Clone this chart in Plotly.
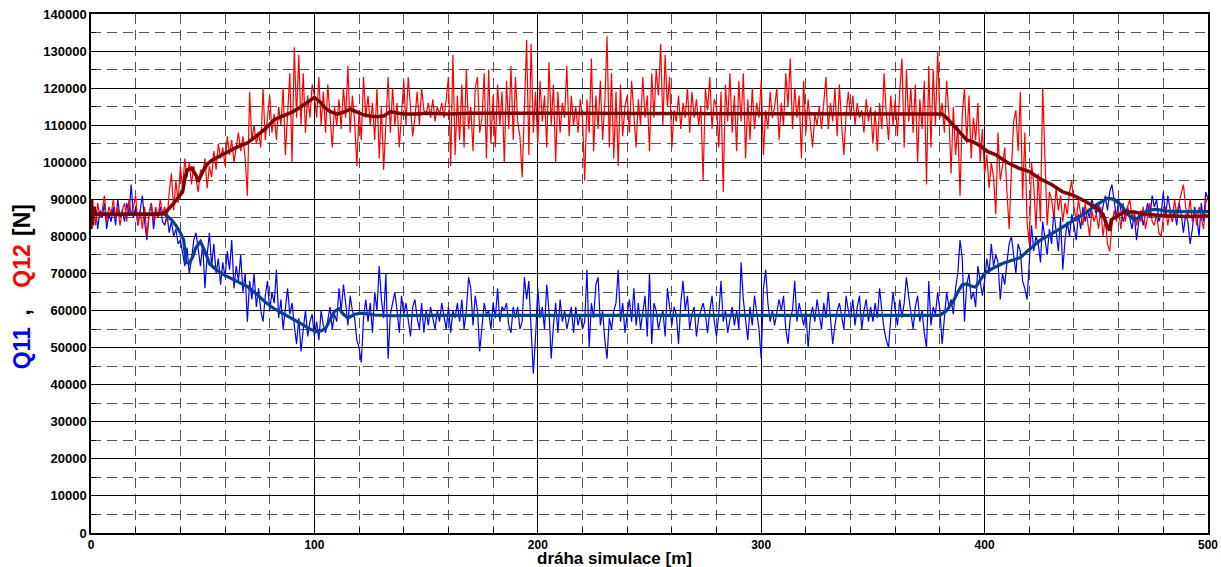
import plotly.graph_objects as go

RED_NOISY_KN = [
    84, 88, 83, 89, 85, 87, 91, 84, 88, 86,
    90, 85, 88, 83, 87, 89, 84, 90, 86, 88,
    91, 83, 87, 82, 88, 80, 86, 89, 84, 88,
    85, 90, 86, 88, 84, 92, 97, 87, 95, 89,
    99, 93, 101, 96, 100, 94, 99, 95, 92, 98,
    97, 101, 93, 99, 96, 103, 98, 105, 101, 104,
    99, 107, 102, 106, 100, 104, 108, 103, 107, 101,
    91, 119, 106, 110, 105, 108, 104, 120, 106, 112,
    118, 108, 113, 106, 115, 110, 120, 102, 113, 124,
    100, 131, 112, 129, 110, 124, 108, 118, 112, 121,
    118, 112, 123, 110, 119, 108, 121, 113, 104, 115,
    110, 117, 109, 120, 112, 126, 108, 118, 111, 99,
    114, 106, 123, 112, 118, 110, 116, 106, 120, 101,
    115, 98, 112, 123, 108, 120, 110, 116, 104, 113,
    122, 110, 123, 115, 107, 112, 119, 110, 120, 114,
    113, 116, 112, 117, 111, 115, 113, 116, 112, 117,
    123, 99, 129, 102, 118, 106, 121, 104, 125, 109,
    115, 103, 120, 123, 108, 112, 124, 101, 125, 105,
    118, 104, 121, 110, 119, 100, 122, 109, 126, 106,
    123, 111, 107, 96, 118, 133, 102, 132, 108, 119,
    105, 122, 111, 118, 104, 127, 110, 121, 100, 119,
    108, 116, 112, 126, 107, 118, 110, 115, 108, 117,
    112, 95, 117, 108, 128, 103, 118, 109, 122, 106,
    116, 134, 104, 124, 101, 119, 99, 121, 107, 115,
    118, 108, 122, 112, 104, 117, 110, 123, 112, 118,
    103, 124, 112, 125, 118, 132, 110, 129, 115, 123,
    104, 114, 111, 118, 109, 116, 112, 120, 108, 119,
    112, 117, 110, 115, 95, 120, 114, 123, 109, 117,
    115, 104, 119, 92, 121, 111, 124, 108, 118, 103,
    122, 111, 124, 101, 117, 106, 120, 109, 116, 112,
    122, 102, 114, 109, 119, 112, 115, 120, 106, 116,
    110, 124, 115, 128, 109, 120, 112, 118, 101, 122,
    108, 117, 111, 104, 113, 110, 115, 109, 116, 123,
    109, 116, 111, 120, 107, 121, 110, 102, 113, 119,
    112, 118, 110, 116, 112, 114, 108, 117, 111, 115,
    105, 114, 103, 116, 109, 124, 113, 106, 118, 110,
    117, 107, 119, 128, 104, 125, 111, 120, 108, 121,
    100, 117, 109, 122, 94, 126, 104, 125, 110, 130,
    112, 116, 108, 122, 113, 97, 115, 102, 110, 91,
    113, 120, 105, 118, 101, 112, 106, 116, 100, 109,
    97, 102, 93, 100, 96, 86, 108, 95, 99, 104,
    92, 82, 98, 111, 114, 103, 119, 90, 108, 84,
    78, 100, 94, 82, 97, 84, 120, 98, 83, 92,
    90, 85, 93, 87, 91, 84, 89, 86, 92, 95,
    88, 84, 90, 86, 83, 89, 85, 80, 87, 84,
    86, 82, 88, 80, 85, 78, 76, 83, 87, 84,
    87, 82, 89, 84, 88, 90, 85, 87, 83, 86,
    84, 88, 82, 86, 89, 84, 83, 86, 81, 80,
    85, 88, 83, 87, 84, 90, 86, 89, 92, 94,
    88, 85, 90, 84, 87, 83, 88, 85, 82, 89,
    91,
]

BLUE_NOISY_KN = [
    86, 84, 88, 82, 87, 85, 89, 82, 86, 84,
    88, 83, 90, 85, 87, 84, 89, 86, 94, 85,
    88, 83, 87, 91, 84, 79, 86, 89, 82, 87,
    85, 88, 84, 83, 86, 81, 84, 80, 82, 78,
    79, 75, 72, 77, 70, 74, 79, 81, 76, 72,
    78, 66, 75, 81, 72, 78, 70, 74, 67, 73,
    69, 76, 71, 79, 66, 72, 68, 75, 65, 70,
    57, 68, 63, 70, 61, 66, 60, 57, 64, 68,
    60, 65, 62, 71, 58, 63, 55, 61, 66, 59,
    62, 56, 51, 58, 49, 55, 60, 53, 57, 59,
    53, 57, 52, 60, 56, 54, 58, 61, 55, 59,
    57, 66, 60, 67, 62, 56, 64, 60, 58, 52,
    50, 46, 58, 63, 57, 62, 54, 65, 60, 72,
    63, 58, 70, 47, 59, 62, 65, 60, 54, 64,
    59, 62, 57, 53, 61, 63, 58, 55, 62, 54,
    60, 56, 61, 58, 55, 60, 57, 62, 58, 55,
    61, 54, 60, 58, 62, 57, 63, 55, 60, 69,
    66, 56, 64, 60, 49, 56, 62, 59, 60, 55,
    62, 58, 66, 57, 61, 60, 62, 56, 54, 61,
    58, 61, 55, 57, 69, 63, 68, 55, 43, 53,
    66, 58, 61, 55, 67, 60, 47, 56, 62, 54,
    63, 57, 60, 55, 58, 61, 54, 61, 56, 59,
    55, 57, 71, 50, 62, 58, 67, 69, 56, 60,
    52, 47, 58, 55, 60, 62, 71, 57, 62, 54,
    59, 63, 57, 66, 56, 62, 55, 60, 64, 53,
    70, 51, 62, 60, 55, 58, 60, 53, 66, 61,
    56, 61, 59, 51, 62, 68, 60, 64, 55, 59,
    61, 53, 58, 60, 62, 59, 54, 60, 64, 57,
    53, 59, 68, 57, 60, 54, 58, 61, 56, 60,
    55, 73, 63, 58, 52, 61, 56, 64, 59, 55,
    47, 66, 71, 62, 57, 60, 56, 59, 63, 60,
    64, 55, 51, 58, 60, 68, 57, 62, 59, 56,
    60, 50, 58, 61, 57, 63, 59, 55, 62, 58,
    65, 58, 51, 56, 60, 62, 58, 55, 64, 60,
    58, 63, 56, 61, 64, 55, 60, 63, 57, 61,
    57, 62, 58, 66, 60, 55, 52, 50, 58, 65,
    60, 56, 63, 58, 62, 69, 64, 59, 55, 61,
    64, 57, 60, 54, 50, 68, 56, 61, 59, 65,
    60, 51, 58, 65, 61, 63, 59, 66, 70, 79,
    74, 57, 67, 70, 63, 65, 61, 72, 68, 64,
    68, 74, 70, 78, 72, 75, 73, 63, 70, 67,
    73, 78, 80, 74, 70, 78, 76, 68, 66, 63,
    74, 83, 76, 80, 78, 73, 84, 79, 75, 82,
    78, 87, 81, 76, 85, 71, 79, 84, 80, 86,
    83, 79, 86, 82, 88, 84, 87, 85, 90, 88,
    86, 89, 85, 88, 91, 87, 92, 94, 89, 85,
    90, 87, 84, 86, 88, 85, 82, 86, 79, 84,
    87, 83, 86, 89, 85, 91, 88, 90, 84, 86,
    92, 85, 91, 88, 84, 87, 83, 89, 86, 81,
    86, 84, 78, 82, 88, 85, 80, 89, 84, 92,
    90,
]

# Smoothed (mean) curves: (distance m, value kN)
RED_SMOOTH = [
    (0, 82), (0.3, 90), (0.6, 83), (1, 88), (2, 86), (10, 86), (20, 86), (30, 86),
    (33, 86.3), (35, 87.5), (37, 88.9), (39, 90.5), (41, 92), (42, 95.5), (43, 97.9),
    (45, 98.4), (47, 96.5), (48, 94.8), (50, 97.5), (52, 99.5), (54, 100.5),
    (57, 101.5), (60, 102.5), (63, 103.5), (66, 104.3), (70, 105.2), (74, 107),
    (78, 109), (82, 111.5), (86, 112.5), (90, 113.5), (94, 115), (97, 116.3),
    (99, 117), (100, 117.5), (101, 117), (103, 116), (105, 114.5), (107, 113.7),
    (110, 113), (113, 113.5), (116, 114.3), (119, 113.5), (122, 112.8), (125, 112.5),
    (128, 112.3), (131, 112.5), (134, 113.7), (137, 113.3), (140, 113), (145, 113),
    (150, 113.2), (160, 113), (170, 113.2), (200, 113.2), (250, 113.2), (300, 113.2),
    (350, 113.2), (379, 113.2), (381, 113), (383, 112), (386, 110), (389, 108),
    (392, 106), (395, 105.5), (398, 104.5), (401, 103), (405, 102), (410, 100),
    (415, 98.5), (420, 97.5), (425, 95.5), (430, 94), (435, 92), (440, 91),
    (445, 89.5), (450, 87.7), (453, 86), (455, 82.5), (456, 81.6), (456.7, 84.5),
    (460, 85.8), (463, 86.6), (467, 86.6), (472, 86), (480, 85.6), (490, 85.4),
    (500, 85.5),
]

BLUE_SMOOTH = [
    (0, 86), (33, 86), (36, 84.5), (38, 83), (40, 81), (41.5, 79), (42.5, 73),
    (44, 72.7), (45.5, 74.5), (47, 77), (49, 78.6), (51, 76), (53, 72.7), (56, 71),
    (60, 69.5), (65, 68), (70, 66.5), (74, 64.5), (78, 62.3), (82, 60.5), (86, 59.2),
    (90, 58), (94, 56.5), (98, 55), (101, 54.3), (103, 54.5), (105, 55.2), (107, 57.5),
    (109, 59.8), (111, 60.5), (113, 59), (115, 58), (118, 59), (121, 59.3), (124, 59),
    (127, 58.8), (135, 58.6), (150, 58.7), (200, 58.7), (250, 58.7), (300, 58.7),
    (350, 58.7), (380, 58.7), (383, 60), (386, 62.5), (388, 65), (390, 67), (392, 67.2),
    (394, 66.6), (396, 66.3), (398, 68), (400, 70), (404, 71.5), (408, 72.7),
    (412, 73.5), (416, 74.3), (420, 76.5), (425, 79), (430, 80.7), (435, 82.5),
    (440, 84.5), (445, 86.3), (450, 88.5), (455, 90.3), (458, 90), (461, 88.5),
    (464, 86), (467, 84.4), (470, 85.5), (473, 87.1), (477, 87.3), (482, 86.8),
    (490, 86.7), (500, 86.7),
]

X_TICKS = [0, 100, 200, 300, 400, 500]
Y_TICKS = list(range(0, 140001, 10000))

# Y-axis title pieces: (text, colour)
Y_TITLE_PARTS = [("Q11", "#0000FF"), (",", "#000000"), ("Q12", "#FF0000"), ("[N]", "#000000")]
Y_TITLE_POS = [0.3558, 0.4250, 0.5150, 0.6031]

x_noisy = list(range(len(RED_NOISY_KN)))
red_noisy = [v * 1000 for v in RED_NOISY_KN]
blue_noisy = [v * 1000 for v in BLUE_NOISY_KN]
red_sx = [p[0] for p in RED_SMOOTH]
red_sy = [p[1] * 1000 for p in RED_SMOOTH]
blue_sx = [p[0] for p in BLUE_SMOOTH]
blue_sy = [p[1] * 1000 for p in BLUE_SMOOTH]

FONT = "Liberation Sans, Arial, sans-serif"

fig = go.Figure()
fig.add_trace(go.Scatter(x=x_noisy, y=blue_noisy, mode="lines",
                         line=dict(color="#0000FF", width=1.2), showlegend=False))
fig.add_trace(go.Scatter(x=x_noisy, y=red_noisy, mode="lines",
                         line=dict(color="#FF0000", width=1.2), showlegend=False))
fig.add_trace(go.Scatter(x=blue_sx, y=blue_sy, mode="lines",
                         line=dict(color="#0A3F92", width=3.2), showlegend=False))
fig.add_trace(go.Scatter(x=red_sx, y=red_sy, mode="lines",
                         line=dict(color="#800000", width=3.5), showlegend=False))

fig.update_layout(
    width=1221, height=567,
    margin=dict(l=91, r=13, t=14, b=34, autoexpand=False),
    plot_bgcolor="white", paper_bgcolor="white",
    font=dict(family=FONT, size=13, color="black"),
    xaxis=dict(
        range=[0, 500], tickmode="array", tickvals=X_TICKS,
        ticktext=[f"<b>{t}</b>" for t in X_TICKS], automargin=False,
        showgrid=True, gridcolor="#000000", gridwidth=1,
        showline=True, linecolor="black", linewidth=1.5, mirror=True,
        ticks="inside", ticklen=5, tickcolor="black",
        minor=dict(dtick=20, tick0=0, showgrid=True, gridcolor="#555555",
                   griddash="10px,6px", gridwidth=1,
                   ticks="inside", ticklen=5, tickcolor="black"),
        zeroline=False, tickfont=dict(size=12, family=FONT),
    ),
    yaxis=dict(
        range=[0, 140000], tickmode="array", tickvals=Y_TICKS,
        ticktext=[f"<b>{t}</b>" for t in Y_TICKS], automargin=False,
        showgrid=True, gridcolor="#000000", gridwidth=1,
        showline=True, linecolor="black", linewidth=1.5, mirror=True,
        ticks="inside", ticklen=5, tickcolor="black",
        minor=dict(dtick=5000, tick0=0, showgrid=True, gridcolor="#555555",
                   griddash="10px,6px", gridwidth=1,
                   ticks="inside", ticklen=5, tickcolor="black"),
        zeroline=False, tickfont=dict(size=13, family=FONT),
    ),
)

for (txt, col), ypos in zip(Y_TITLE_PARTS, Y_TITLE_POS):
    fig.add_annotation(
        text=f"<b>{txt}</b>",
        xref="paper", yref="paper", x=-0.0618, y=ypos, textangle=-90,
        showarrow=False, xanchor="center", yanchor="middle",
        font=dict(size=23, family=FONT, color=col),
    )

fig.add_annotation(
    text="<b>dráha simulace [m]</b>",
    xref="paper", yref="paper", x=0.469, y=-0.0490,
    showarrow=False, xanchor="center", yanchor="middle",
    font=dict(size=17, family=FONT, color="black"),
)

fig.write_html("out.html")
